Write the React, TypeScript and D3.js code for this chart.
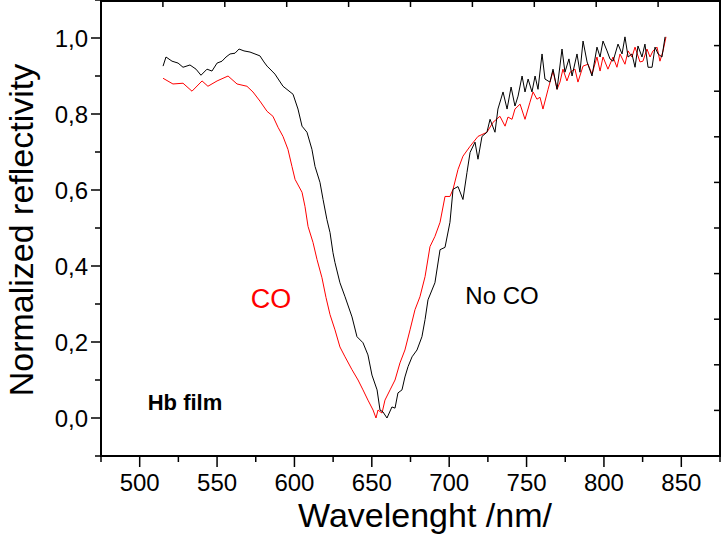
import React from "react";
import * as d3 from "d3";

// ---- data (wavelength in nm, normalized reflectivity) ----
const noCoWavelength = [
  515.1, 517.0, 520.9, 524.8, 528.0, 532.5, 536.4, 539.6, 543.5, 546.7, 550.0, 553.2, 555.8, 558.4, 561.6,
  564.2, 567.4, 571.3, 574.5, 577.7, 580.3, 582.3, 585.5, 587.4, 592.6, 599.1, 602.3, 604.9, 608.1, 611.3,
  613.3, 616.5, 618.5, 621.0, 623.0, 624.9, 626.2, 629.4, 632.7, 637.2, 640.4, 644.3, 647.5, 650.1, 653.4,
  655.3, 657.2, 659.8, 663.0, 665.0, 666.9, 669.5, 671.4, 673.4, 676.0, 679.2, 682.4, 684.4, 686.3, 690.8,
  694.1, 697.3, 700.5, 702.5, 705.7, 708.9, 711.5, 713.5, 716.7, 718.6, 721.2, 724.4, 726.4, 729.6, 731.5,
  734.8, 737.4, 740.0, 742.5, 744.5, 747.1, 749.0, 751.0, 753.5, 755.5, 757.4, 760.0, 761.9, 765.1, 767.1,
  769.7, 772.9, 774.8, 777.4, 779.4, 782.6, 784.5, 786.5, 789.1, 792.3, 795.5, 797.5, 799.4, 802.0, 803.9,
  805.9, 809.1, 811.7, 813.6, 815.6, 818.1, 820.1, 822.0, 824.6, 826.5, 828.5, 831.1, 833.0, 835.0, 837.5,
  839.5,
];
const noCoReflectivity = [
  0.926, 0.950, 0.939, 0.934, 0.923, 0.929, 0.918, 0.902, 0.918, 0.913, 0.934, 0.939, 0.950, 0.958, 0.960,
  0.971, 0.966, 0.963, 0.958, 0.953, 0.937, 0.926, 0.913, 0.905, 0.873, 0.852, 0.813, 0.768, 0.752, 0.707,
  0.662, 0.620, 0.575, 0.522, 0.488, 0.435, 0.409, 0.356, 0.319, 0.266, 0.214, 0.198, 0.166, 0.113, 0.074,
  0.021, 0.016, 0.000, 0.029, 0.026, 0.066, 0.074, 0.108, 0.135, 0.161, 0.179, 0.214, 0.259, 0.311, 0.356,
  0.443, 0.449, 0.515, 0.602, 0.609, 0.575, 0.646, 0.699, 0.726, 0.681, 0.741, 0.752, 0.786, 0.752, 0.813,
  0.858, 0.813, 0.871, 0.821, 0.847, 0.900, 0.858, 0.892, 0.858, 0.900, 0.865, 0.958, 0.892, 0.884, 0.918,
  0.865, 0.971, 0.910, 0.945, 0.900, 0.958, 0.910, 0.992, 0.937, 0.900, 0.976, 0.950, 0.992, 0.966, 0.945,
  0.939, 0.984, 0.958, 1.003, 0.950, 0.958, 0.923, 0.979, 0.950, 0.984, 0.923, 0.923, 0.976, 0.958, 0.950,
  1.003,
];

const coWavelength = [
  515.1, 521.5, 528.0, 533.8, 540.3, 544.1, 550.0, 557.1, 562.9, 569.3, 573.2, 577.7, 582.3, 586.1, 589.4,
  592.6, 595.8, 598.4, 600.4, 604.9, 606.8, 608.8, 612.0, 614.6, 617.8, 620.4, 623.0, 626.2, 629.4, 632.7,
  637.2, 641.1, 644.3, 647.5, 650.8, 652.7, 654.0, 656.6, 658.5, 661.8, 665.0, 668.2, 671.4, 674.7, 677.9,
  681.1, 684.4, 687.6, 690.8, 694.1, 697.3, 700.5, 702.5, 705.7, 708.9, 713.5, 718.6, 724.4, 728.3, 732.8,
  736.1, 738.0, 740.6, 742.5, 745.8, 749.0, 752.2, 754.2, 756.7, 758.7, 760.6, 763.9, 767.1, 769.7, 771.6,
  773.5, 776.1, 778.1, 781.3, 783.2, 786.5, 789.7, 792.3, 795.5, 797.5, 799.4, 802.6, 805.9, 808.4, 810.4,
  813.6, 815.6, 818.1, 820.1, 823.3, 825.2, 827.8, 829.8, 831.7, 834.3, 836.2, 838.2, 840.1,
];
const coReflectivity = [
  0.894, 0.879, 0.881, 0.860, 0.887, 0.873, 0.887, 0.900, 0.879, 0.873, 0.858, 0.834, 0.807, 0.794, 0.765,
  0.741, 0.707, 0.662, 0.628, 0.594, 0.557, 0.504, 0.462, 0.417, 0.369, 0.317, 0.272, 0.232, 0.187, 0.161,
  0.127, 0.100, 0.074, 0.047, 0.021, 0.000, 0.021, 0.013, 0.047, 0.074, 0.100, 0.145, 0.179, 0.232, 0.285,
  0.319, 0.372, 0.451, 0.478, 0.515, 0.583, 0.583, 0.602, 0.654, 0.689, 0.715, 0.741, 0.752, 0.778, 0.794,
  0.768, 0.792, 0.786, 0.813, 0.826, 0.786, 0.831, 0.858, 0.839, 0.844, 0.813, 0.865, 0.913, 0.865, 0.884,
  0.918, 0.887, 0.910, 0.918, 0.884, 0.926, 0.931, 0.905, 0.950, 0.913, 0.950, 0.918, 0.950, 0.923, 0.958,
  0.931, 0.966, 0.950, 0.976, 0.937, 0.939, 0.971, 0.950, 0.966, 0.976, 0.939, 0.966, 1.003,
];

const xTickValues = [475, 500, 525, 550, 575, 600, 625, 650, 675, 700, 725, 750, 775, 800, 825, 850, 875];
const xTickLabels = ["500", "550", "600", "650", "700", "750", "800", "850"];
const yTickValues = [-0.1, 0, 0.1, 0.2, 0.3, 0.4, 0.5, 0.6, 0.7, 0.8, 0.9, 1.0, 1.1];
const yTickLabels = ["0,0", "0,2", "0,4", "0,6", "0,8", "1,0"];
const secondaryTicks = [1, 2, 3, 4, 5, 6, 7, 8, 9];

const W = 722;
const H = 538;
const L = 101;
const R = 720;
const T = 0;
const B = 456;
const FONT = "'Liberation Sans', Arial, Helvetica, sans-serif";

export default function App() {
  const x = d3.scaleLinear().domain([475, 875]).range([L, R]);
  const y = d3.scaleLinear().domain([-0.1, 1.1]).range([B, T]);
  const xTop = d3.scaleLinear().domain([0, 10]).range([L, R]);
  const yRight = d3.scaleLinear().domain([0, 10]).range([B, T]);

  const noCo = noCoWavelength.map((w, i) => [w, noCoReflectivity[i]] as [number, number]);
  const co = coWavelength.map((w, i) => [w, coReflectivity[i]] as [number, number]);
  const line = d3
    .line<[number, number]>()
    .x((d) => x(d[0]))
    .y((d) => y(d[1]))
    .curve(d3.curveLinear);

  const isMajorX = (v: number) => v % 50 === 0;
  const isMajorY = (v: number) => Math.round(v * 10) % 2 === 0;

  return (
    <div style={{ position: "absolute", left: 0, top: 0 }}>
      <svg width={W} height={H} style={{ display: "block", background: "#fff" }}>
        <rect x={0} y={0} width={W} height={H} fill="#fff" />
        {/* series */}
        <path d={line(co) || ""} fill="none" stroke="#ff0000" strokeWidth={1} />
        <path d={line(noCo) || ""} fill="none" stroke="#000" strokeWidth={1} />

        {/* frame */}
        <rect x={L} y={T + 1} width={R - L} height={B - T - 1} fill="none" stroke="#000" strokeWidth={2} />

        {/* bottom ticks */}
        {xTickValues.map((v) => (
          <line
            key={"bx" + v}
            x1={x(v)}
            x2={x(v)}
            y1={B}
            y2={B + (isMajorX(v) ? 11 : 6)}
            stroke="#000"
            strokeWidth={1.5}
          />
        ))}
        {xTickLabels.map((t) => (
          <text
            key={"bl" + t}
            x={x(+t)}
            y={491}
            textAnchor="middle"
            fontFamily={FONT}
            fontSize={24}
            fill="#000"
          >
            {t}
          </text>
        ))}

        {/* left ticks */}
        {yTickValues.map((v) => (
          <line
            key={"ly" + v}
            x1={L - (isMajorY(v) ? 10 : 6)}
            x2={L}
            y1={y(v)}
            y2={y(v)}
            stroke="#000"
            strokeWidth={1.5}
          />
        ))}
        {yTickLabels.map((t) => (
          <text
            key={"yl" + t}
            x={88}
            y={y(+t.replace(",", ".")) + 8.5}
            textAnchor="end"
            fontFamily={FONT}
            fontSize={24}
            fill="#000"
          >
            {t}
          </text>
        ))}

        {/* top & right secondary ticks */}
        {secondaryTicks.map((v) => (
          <line key={"tx" + v} x1={xTop(v)} x2={xTop(v)} y1={T} y2={T + 7} stroke="#000" strokeWidth={1.5} />
        ))}
        {secondaryTicks.map((v) => (
          <line key={"ry" + v} x1={R - 6} x2={R} y1={yRight(v)} y2={yRight(v)} stroke="#000" strokeWidth={1.5} />
        ))}

        {/* axis titles */}
        <text x={425} y={527} textAnchor="middle" fontFamily={FONT} fontSize={34} fill="#000">
          Wavelenght /nm/
        </text>
        <text
          transform={`translate(33, 230) rotate(-90)`}
          textAnchor="middle"
          fontFamily={FONT}
          fontSize={34}
          fill="#000"
        >
          Normalized reflectivity
        </text>

        {/* annotations */}
        <text x={271} y={308} textAnchor="middle" fontFamily={FONT} fontSize={27} fill="#ff0000">
          CO
        </text>
        <text x={502} y={304} textAnchor="middle" fontFamily={FONT} fontSize={24} fill="#000">
          No CO
        </text>
        <text x={185} y={410} textAnchor="middle" fontFamily={FONT} fontSize={22} fontWeight="bold" fill="#000">
          Hb film
        </text>
      </svg>
    </div>
  );
}
